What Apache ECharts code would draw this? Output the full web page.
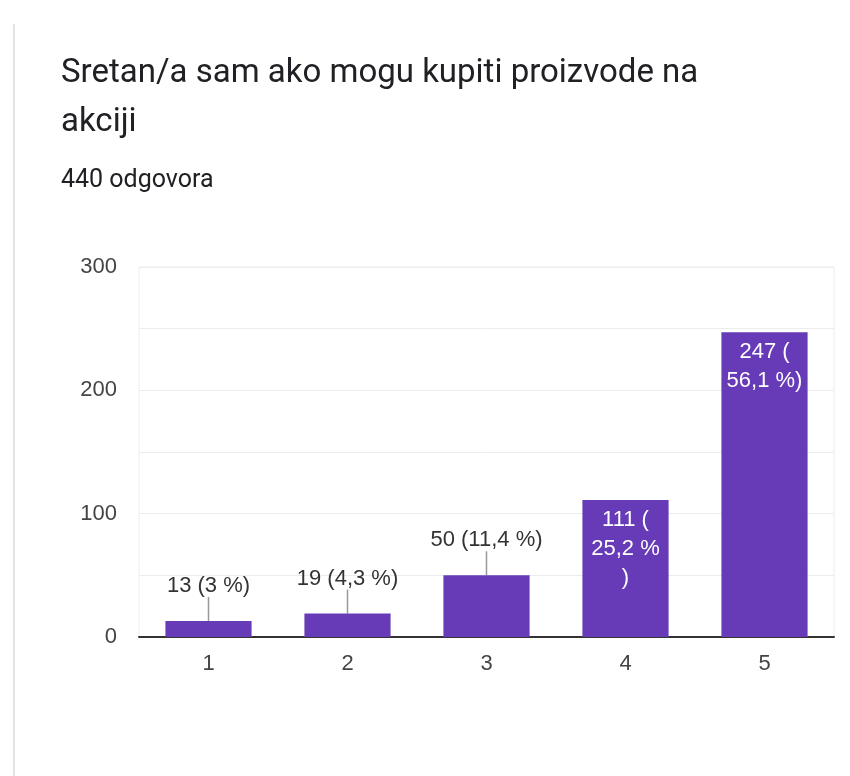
<!DOCTYPE html>
<html>
<head>
<meta charset="utf-8">
<script src="https://cdn.jsdelivr.net/npm/echarts@6/dist/echarts.min.js"></script>
<style>
    html, body {margin: 0; padding: 0; background: #fff;}
    #chart {width: 850px; height: 776px;}
</style>
</head>
<body>
<div id="chart"></div>
<script>
var titleText = 'Sretan/a sam ako mogu kupiti proizvode na\nakciji';
var subText = '440 odgovora';

var categories = ['1', '2', '3', '4', '5'];
var counts = [13, 19, 50, 111, 247];
var percents = ['3 %', '4,3 %', '11,4 %', '25,2 %', '56,1 %'];
var yTicks = [0, 100, 200, 300];

var purple = '#673ab7';
var headFont = 'Roboto, "Noto Sans", sans-serif';
var font = '"Liberation Sans", Arial, sans-serif';

// labels sitting outside the bar (small bars) get a leader line
var outsideLabel = {
    show: true,
    position: 'top',
    distance: 0,
    color: '#333',
    fontSize: 22,
    fontFamily: font
};

var barData = counts.map(function (v, i) {
    var item = {value: v};
    if (v > 100) {
        // big bars: white text inside, wrapped like the original
        var txt = i === 3 ? v + ' (\n' + percents[i] + '\n)' : v + ' (\n' + percents[i] + ')';
        item.label = {
            show: true,
            position: 'insideTop',
            distance: 5,
            color: '#fff',
            fontSize: 22,
            lineHeight: 29,
            fontFamily: font,
            formatter: txt
        };
        item.labelLine = {show: false};
    } else {
        item.label = Object.assign({}, outsideLabel, {formatter: v + ' (' + percents[i] + ')'});
    }
    return item;
});

var chart = echarts.init(document.getElementById('chart'), null, {renderer: 'canvas'});

chart.setOption({
    animation: false,
    title: [{
        text: titleText,
        left: 56,
        top: 44,
        textStyle: {fontSize: 33, fontWeight: 'normal', color: '#202124', fontFamily: headFont, lineHeight: 49}
    }, {
        text: subText,
        left: 56,
        top: 163,
        textStyle: {fontSize: 25, fontWeight: 'normal', color: '#202124', fontFamily: headFont, lineHeight: 26}
    }],
    graphic: [{
        type: 'line',
        shape: {x1: 14, y1: 24, x2: 14, y2: 776},
        style: {stroke: '#e3e3e3', lineWidth: 2}
    }],
    grid: {
        left: 139,
        right: 16,
        top: 267,
        bottom: 139,
        show: true,
        borderColor: '#eeeeee',
        borderWidth: 1
    },
    xAxis: {
        type: 'category',
        data: categories,
        axisTick: {show: false},
        axisLine: {lineStyle: {color: '#333', width: 2}},
        axisLabel: {color: '#444', fontSize: 22, fontFamily: font, margin: 16}
    },
    yAxis: {
        type: 'value',
        min: 0,
        max: 300,
        interval: 50,
        axisLine: {show: false},
        axisTick: {show: false},
        splitLine: {lineStyle: {color: '#ececec', width: 1}},
        axisLabel: {
            color: '#444',
            fontSize: 22,
            fontFamily: font,
            margin: 22,
            formatter: function (v) {
                return yTicks.indexOf(v) >= 0 ? String(v) : '';
            }
        }
    },
    series: [{
        type: 'bar',
        data: barData,
        barWidth: '62%',
        itemStyle: {color: purple},
        labelLine: {show: true, lineStyle: {color: '#999', width: 1.5}},
        labelLayout: function (params) {
            if (counts[params.dataIndex] > 100) return {};
            return {dy: -24};
        }
    }]
});
</script>
</body>
</html>
